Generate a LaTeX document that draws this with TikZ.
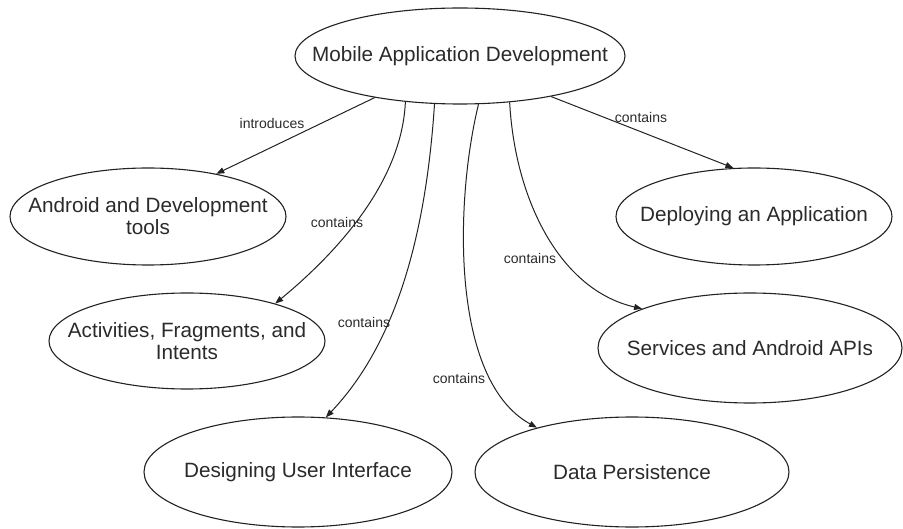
\documentclass[tikz,border=0pt]{standalone}
\usepackage{fontspec}
\setmainfont{Liberation Sans}
\usetikzlibrary{shapes.geometric,arrows.meta}
\definecolor{ink}{HTML}{222222}
\definecolor{txt}{HTML}{2A2A2A}
\begin{document}
\begin{tikzpicture}[x=1pt,y=-1pt,
  ell/.style={draw=ink, line width=1.1pt, ellipse, inner sep=0pt},
  big/.style={text=txt, font=\fontsize{20.7}{22}\selectfont, align=center, inner sep=0pt},
  lab/.style={text=txt, font=\fontsize{14}{16}\selectfont, inner sep=0pt},
  conn/.style={draw=ink, line width=1pt, -{Triangle[length=8pt,width=6pt]}}
]
\useasboundingbox (0,0) rectangle (903,529);

\node[ell, minimum width=330pt, minimum height=96pt, label={[big]center:Mobile Application Development}] (top) at (460,56) {};
\node[ell, minimum width=276pt, minimum height=97pt, label={[big]center:{Android and Development\\tools}}] (android) at (148,216.5) {};
\node[ell, minimum width=276pt, minimum height=96pt, label={[big]center:{Activities, Fragments, and\\Intents}}] (act) at (187,341) {};
\node[ell, minimum width=308pt, minimum height=110pt, label={[big]center:Designing User Interface}] (design) at (298,472) {};
\node[ell, minimum width=314pt, minimum height=110pt, label={[big]center:Data Persistence}] (data) at (632,472) {};
\node[ell, minimum width=304pt, minimum height=110pt, label={[big]center:Services and Android APIs}] (serv) at (750,348) {};
\node[ell, minimum width=276pt, minimum height=97pt, label={[big]center:Deploying an Application}] (deploy) at (754,216.5) {};

\draw[conn] (top.-154.5) -- (android.32.3);
\draw[conn] (top.-24.5) -- (deploy.113.4);
\draw[conn] (top.-140.5) .. controls (402,180) and (340,250) .. (act.23.8);
\draw[conn] (top.-118.9) .. controls (425,250) and (390,350) .. (design.63.9);
\draw[conn] (top.-69.8) .. controls (455,200) and (450,380) .. (data.155.3);
\draw[conn] (top.-43.3) .. controls (515,200) and (560,290) .. (serv.160.7);

\node[lab] (l1) at (272,123) {introduces};
\node[lab] (l2) at (641,117) {contains};
\node[lab] (l3) at (337,222) {contains};
\node[lab] (l4) at (364,322) {contains};
\node[lab] (l5) at (459,378) {contains};
\node[lab] (l6) at (530,258) {contains};
\end{tikzpicture}
\end{document}
